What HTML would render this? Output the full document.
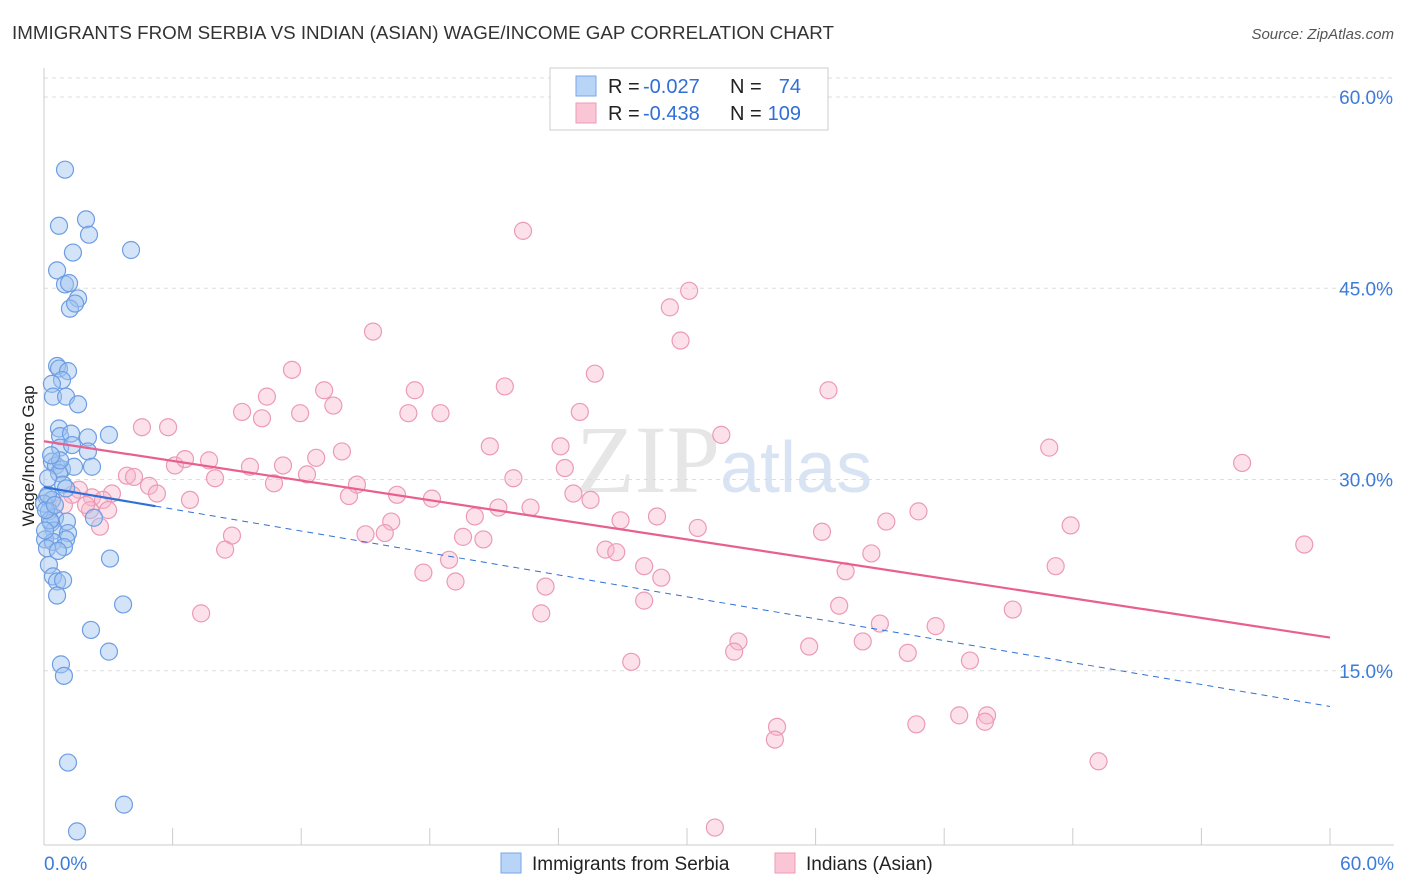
<!DOCTYPE html>
<html><head><meta charset="utf-8"><style>
body{margin:0;background:#fff;font-family:"Liberation Sans",sans-serif;}
#wrap{position:relative;width:1406px;height:892px;overflow:hidden}
</style></head><body>
<div id="wrap">
<svg id="svg" width="1406" height="892" xmlns="http://www.w3.org/2000/svg">
<text x="12" y="39" font-size="18" fill="#333" textLength="822" lengthAdjust="spacingAndGlyphs">IMMIGRANTS FROM SERBIA VS INDIAN (ASIAN) WAGE/INCOME GAP CORRELATION CHART</text>
<text x="1394" y="39" font-size="15" fill="#555" font-style="italic" text-anchor="end">Source: ZipAtlas.com</text>
<text x="0" y="0" transform="translate(34,456) rotate(-90)" font-size="17" fill="#222" text-anchor="middle">Wage/Income Gap</text>
<text x="720" y="492" font-size="96" fill="#e6e6e6" font-family="Liberation Serif,serif" text-anchor="end">ZIP</text>
<text x="720" y="492" font-size="72" fill="#d8e4f3">atlas</text>
<g id="grid"></g><g id="marks"></g>
<g>
<rect x="550" y="68" width="278" height="62" fill="#fff" stroke="#ccc"/>
<rect x="576" y="76" width="20" height="20" fill="#b8d4f6" stroke="#7aa6e6"/>
<rect x="576" y="103" width="20" height="20" fill="#fac6d6" stroke="#ec9ab6"/>
<text x="608" y="93" font-size="20" fill="#222">R =</text>
<text x="643" y="93" font-size="20" fill="#2f6fd6">-0.027</text>
<text x="730" y="93" font-size="20" fill="#222">N =</text>
<text x="801" y="93" font-size="20" fill="#2f6fd6" text-anchor="end">74</text>
<text x="608" y="120" font-size="20" fill="#222">R =</text>
<text x="643" y="120" font-size="20" fill="#2f6fd6">-0.438</text>
<text x="730" y="120" font-size="20" fill="#222">N =</text>
<text x="801" y="120" font-size="20" fill="#2f6fd6" text-anchor="end">109</text>
</g>
<g>
<rect x="501" y="853" width="20" height="20" fill="#b8d4f6" stroke="#7aa6e6"/>
<text x="532" y="870" font-size="19" fill="#222">Immigrants from Serbia</text>
<rect x="775" y="853" width="20" height="20" fill="#fac6d6" stroke="#ec9ab6"/>
<text x="806" y="870" font-size="19" fill="#222">Indians (Asian)</text>
</g>
</svg>
</div>
<script>
const yTicks=[15,30,45,60];
const xTickLabels=["0.0%","60.0%"];
const blueX=[0.98,0.7,1.96,2.1,1.35,4.06,0.61,0.98,1.17,1.59,1.21,1.45,0.61,0.7,1.12,0.84,0.37,0.42,1.03,1.59,0.7,0.75,1.26,2.05,3.03,0.75,2.05,0.37,0.56,0.84,1.4,2.24,0.7,0.19,0.89,1.03,0.14,0.37,0,0.23,0.51,2.33,1.07,0.33,0.47,1.12,0.05,1.03,0.42,0.93,0.14,0.65,3.08,0.23,0.42,0.61,0.89,0.61,3.69,2.19,3.03,0.79,0.93,1.12,3.73,1.54,0.28,0.09,0.19,0.51,0.75,1.31,0.33,0.05];
const blueY=[54.3,49.9,50.4,49.2,47.8,48.0,46.4,45.3,45.4,44.2,43.4,43.8,38.9,38.7,38.5,37.8,37.5,36.5,36.5,35.9,34.0,33.4,33.6,33.3,33.5,32.5,32.2,31.4,31.1,30.8,31.0,31.0,30.5,30.1,29.6,29.3,28.6,28.4,28.1,27.5,27.0,27.0,26.7,26.6,26.0,25.8,25.3,25.3,25.1,24.7,24.6,24.4,23.8,23.3,22.4,22.0,22.1,20.9,20.2,18.2,16.5,15.5,14.6,7.8,4.5,2.4,26.8,27.6,28.8,28.0,31.5,32.7,31.9,26.0];
const pinkX=[22.35,30.1,29.2,29.7,15.35,11.57,25.7,36.6,21.5,13.07,17.3,10.4,13.5,9.24,10.17,11.95,17.0,18.5,25.0,4.57,5.79,31.6,46.9,20.8,13.9,24.1,12.7,55.9,6.11,7.7,6.58,9.61,11.15,24.3,12.27,3.87,4.2,7.98,4.9,10.73,14.6,21.9,5.27,14.23,16.47,18.1,24.7,25.5,6.81,3.17,2.24,2.75,1.63,2.99,21.2,22.7,20.1,28.6,26.9,40.8,39.3,47.9,16.2,2.61,30.5,36.3,8.77,15.0,15.9,19.55,20.5,8.45,26.2,26.7,38.6,58.8,18.9,17.7,19.2,28.0,28.8,37.4,47.2,23.4,28.0,37.1,23.2,7.33,45.2,39.0,41.6,32.4,32.2,35.7,38.2,40.3,27.4,43.2,34.2,34.1,44.0,42.7,43.9,40.7,49.2,31.3,1.31,0.93,2.15,1.96];
const pinkY=[49.5,44.8,43.5,40.9,41.6,38.6,38.3,37.0,37.3,37.0,37.0,36.5,35.8,35.3,34.8,35.2,35.2,35.2,35.3,34.1,34.1,33.5,32.5,32.6,32.2,32.6,31.7,31.3,31.1,31.5,31.6,31.0,31.1,30.9,30.4,30.3,30.2,30.1,29.5,29.7,29.6,30.1,28.9,28.7,28.8,28.5,28.9,28.4,28.4,28.9,28.6,28.4,29.2,27.6,27.8,27.8,27.1,27.1,26.8,27.5,26.7,26.4,26.7,26.3,26.2,25.9,25.6,25.7,25.8,25.5,25.3,24.5,24.5,24.3,24.2,24.9,23.7,22.7,22.0,23.2,22.3,22.8,23.2,21.6,20.5,20.1,19.5,19.5,19.8,18.7,18.5,17.3,16.5,16.9,17.3,16.4,15.7,15.8,10.6,9.6,11.5,11.5,11.0,10.8,7.9,2.7,28.8,28.0,27.6,28.0];
const blueTrend=[29.4,12.2];
const pinkTrend=[33.0,17.6];
const blueSolidEnd=5.2;

const NS="http://www.w3.org/2000/svg";
const X=v=>44+v*(1330-44)/60;
const Y=v=>862-v*(862-97)/60;
function el(tag,attrs,parent){const e=document.createElementNS(NS,tag);for(const k in attrs)e.setAttribute(k,attrs[k]);parent.appendChild(e);return e;}
const grid=document.getElementById('grid'),marks=document.getElementById('marks');
let topLine=el('line',{x1:44,x2:1394,y1:78,y2:78,stroke:'#ddd','stroke-dasharray':'4,4'},grid);


yTicks.forEach(t=>{
  const g=el('line',{x1:44,x2:1394,y1:Y(t),y2:Y(t),stroke:'#ddd','stroke-dasharray':'4,4'},grid);
  
  
  const l=el('text',{x:1393,y:Y(t)+7,'font-size':19,fill:'#3d7bd9','text-anchor':'end'},grid);
  l.textContent=t.toFixed(1)+'%';
  
  
});
const ax=el('line',{x1:44,x2:44,y1:68,y2:845,stroke:'#ccc'},grid);


const bx=el('line',{x1:44,x2:1394,y1:845,y2:845,stroke:'#ccc'},grid);


for(let i=0;i<=10;i++){
  const t=el('line',{x1:X(i*6),x2:X(i*6),y1:828,y2:845,stroke:'#ccc'},grid);
  
  
}
[[0,'start',44],[60,'end',1394]].forEach((d,i)=>{
  const l=el('text',{x:d[2],y:870,'font-size':19,fill:'#3d7bd9','text-anchor':d[1]},grid);
  l.textContent=xTickLabels[i];
  
  
});
pinkX.forEach((x,i)=>{
  const c=el('circle',{cx:X(x),cy:Y(pinkY[i]),r:8.5,fill:'rgba(248,180,202,0.4)',stroke:'#ec9ab6','stroke-width':1.2},marks);
  
  
});
blueX.forEach((x,i)=>{
  const c=el('circle',{cx:X(x),cy:Y(blueY[i]),r:8.5,fill:'rgba(160,196,240,0.45)',stroke:'#6d9de3','stroke-width':1.2},marks);
  
  
});
const by=x=>blueTrend[0]+(blueTrend[1]-blueTrend[0])*x/60;
const pl=el('line',{x1:X(0),y1:Y(pinkTrend[0]),x2:X(60),y2:Y(pinkTrend[1]),stroke:'#e8608f','stroke-width':2.2},marks);


const bs=el('line',{x1:X(0),y1:Y(by(0)),x2:X(blueSolidEnd),y2:Y(by(blueSolidEnd)),stroke:'#2f6fd6','stroke-width':2.2},marks);


const bd=el('line',{x1:X(blueSolidEnd),y1:Y(by(blueSolidEnd)),x2:X(60),y2:Y(by(60)),stroke:'#2f6fd6','stroke-width':1,'stroke-dasharray':'6,5'},marks);


</script>
</body></html>
